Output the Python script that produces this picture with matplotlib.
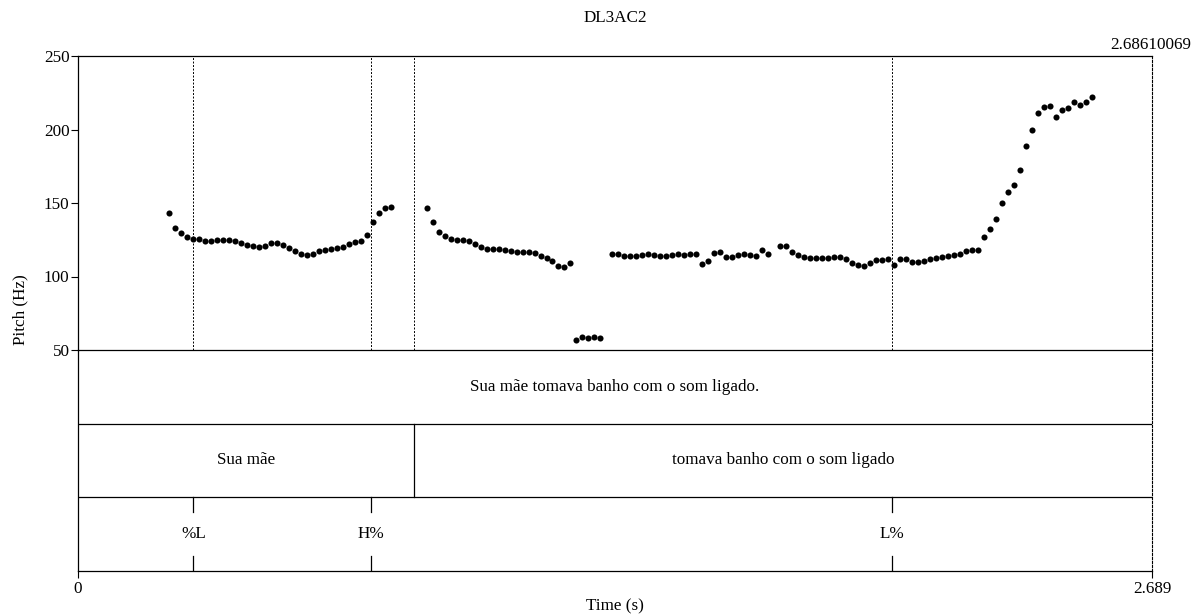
import matplotlib
matplotlib.use("Agg")
import matplotlib.pyplot as plt
import numpy as np

plt.rcParams['font.family'] = ['Liberation Serif', 'DejaVu Serif']

# recording / tiers
title = "DL3AC2"
t_max = 2.689
t_end_label = 2.68610069
sentence = "Sua mãe tomava banho com o som ligado."
word_bounds = [0.0, 0.842, t_max]
word_labels = ["Sua mãe", "tomava banho com o som ligado"]
tone_times = [0.289, 0.734, 2.038]
tone_labels = ["%L", "H%", "L%"]
boundary_lines = [0.289, 0.734, 0.842, 2.038]

# pitch track (Hz), one frame per 0.015 s, nan = unvoiced
f0_start = 0.228
f0_step = 0.015
seg1 = [143.0, 133.0, 129.4, 127.1, 125.8, 125.5, 124.2, 124.2, 124.6, 124.8,
        124.8, 124.4, 123.0, 121.7, 120.7, 119.9, 121.0, 123.0, 123.0, 121.4,
        119.4, 117.6, 115.5, 114.9, 115.5, 117.3, 118.2, 118.5, 119.2, 120.3,
        122.1, 123.3, 124.4, 128.3, 136.9, 143.0, 146.6, 147.3]
gap1 = [np.nan] * 5
seg2 = [146.6, 136.9, 130.3, 127.6, 125.3, 125.1, 125.1, 124.2, 122.1, 120.3,
        118.5, 118.5, 118.5, 118.0, 117.3, 116.4, 116.4, 116.7, 116.0, 114.2,
        112.4, 110.3, 107.4, 106.2, 109.2]
seg3 = [57.0, 58.6, 57.9, 58.6, 58.4]
gap2 = [np.nan]
seg4 = [115.0, 115.3, 113.9, 113.7, 113.9, 114.6, 115.5, 114.6, 114.1, 113.9,
        114.4, 115.3, 114.8, 115.5, 115.3, 108.3, 110.7, 116.0, 116.9, 113.3,
        113.3, 114.4, 115.0, 114.8, 114.2, 117.8, 115.5]
gap3 = [np.nan]
seg5 = [121.0, 120.6, 116.7, 114.8, 113.5, 112.8, 112.4, 112.4, 112.4, 113.5,
        113.3, 112.2, 109.0, 107.8, 107.4, 109.4, 111.0, 111.5, 111.7, 108.0,
        111.9, 111.7, 110.1, 109.7, 110.8, 111.9, 112.6, 113.1, 114.2, 114.4,
        115.5, 117.3, 117.8, 118.2, 126.7, 132.1, 138.9, 149.8, 157.3, 162.2,
        172.4, 188.6, 199.5, 211.0, 215.5, 216.0, 208.8, 213.1, 214.6, 218.5,
        216.9, 218.7, 221.9]

f0 = np.array(seg1 + gap1 + seg2 + seg3 + gap2 + seg4 + gap3 + seg5)
times = f0_start + f0_step * np.arange(len(f0))

fs = 12.3
W, H = 1194, 614
fig = plt.figure(figsize=(W / 100, H / 100), dpi=100)

left, right = 78 / W, 1152 / W
ax = fig.add_axes([left, 1 - 350 / H, right - left, (350 - 56) / H])
axt = fig.add_axes([left, 1 - 571 / H, right - left, (571 - 350) / H], sharex=ax)
axt.patch.set_visible(False)

# pitch panel
ax.plot(times, f0, 'o', color='black', markersize=4.4, markeredgewidth=0)
for b in boundary_lines:
    ax.axvline(b, color='black', lw=0.7, ls=(0, (2, 1.6)))
ax.set_xlim(0, t_max)
ax.set_ylim(50, 250)
ax.set_yticks([50, 100, 150, 200, 250])
ax.tick_params(axis='y', direction='out', length=5, width=0.8, labelsize=fs, pad=1)
ax.tick_params(axis='x', bottom=False, labelbottom=False)
for s in ['left', 'top', 'bottom']:
    ax.spines[s].set_linewidth(0.9)
ax.spines['right'].set_linestyle((0, (2, 1.6)))
ax.spines['right'].set_linewidth(0.8)
ax.text(t_end_label, 252, f"{t_end_label}", ha='center', va='bottom', fontsize=fs)

# tiers
axt.set_ylim(0, 3)
axt.set_yticks([])
axt.spines['top'].set_visible(False)
axt.spines['right'].set_linestyle((0, (2, 1.6)))
axt.spines['right'].set_linewidth(0.8)
for s in ['left', 'bottom']:
    axt.spines[s].set_linewidth(0.9)
for y in [1, 2]:
    axt.axhline(y, color='black', lw=0.9)

axt.text(t_max / 2, 2.5, sentence, ha='center', va='center', fontsize=fs)

for b in word_bounds[1:-1]:
    axt.plot([b, b], [1, 2], color='black', lw=0.9)
for i, lab in enumerate(word_labels):
    axt.text((word_bounds[i] + word_bounds[i + 1]) / 2, 1.5, lab,
             ha='center', va='center', fontsize=fs)

for t, lab in zip(tone_times, tone_labels):
    axt.plot([t, t], [0.8, 1.0], color='black', lw=0.9)
    axt.plot([t, t], [0.0, 0.2], color='black', lw=0.9)
    axt.text(t, 0.5, lab, ha='center', va='center', fontsize=fs)

axt.set_xticks([0, t_max])
axt.set_xticklabels(["0", "2.689"])
axt.tick_params(axis='x', direction='out', length=5, width=0.8, labelsize=fs, pad=2)

fig.text(615 / W, 1 - 18 / H, title, ha='center', va='center', fontsize=fs)
fig.text(615 / W, 1 - 606 / H, "Time (s)", ha='center', va='center', fontsize=fs)
fig.text(20 / W, 1 - 310 / H, "Pitch (Hz)", ha='center', va='center',
         rotation=90, fontsize=fs)

fig.savefig("out.png", dpi=100)
